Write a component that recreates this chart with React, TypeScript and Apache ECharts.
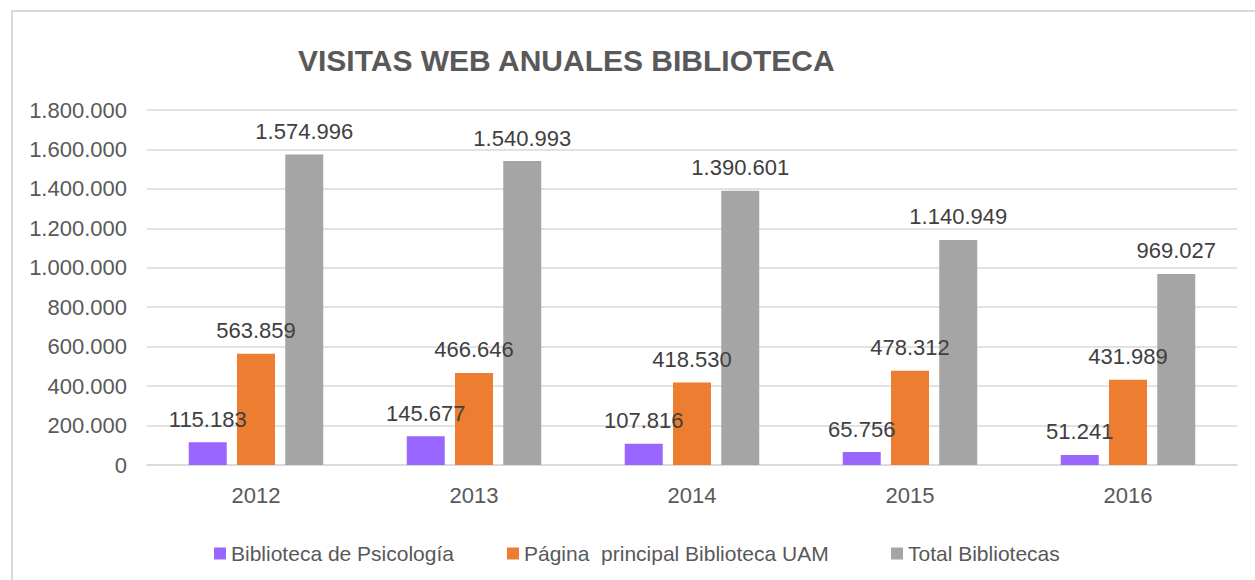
import React, { useEffect, useRef } from "react";
import * as echarts from "echarts";

const years = ["2012", "2013", "2014", "2015", "2016"];
const psicologia = [115183, 145677, 107816, 65756, 51241];
const paginaPrincipal = [563859, 466646, 418530, 478312, 431989];
const totalBibliotecas = [1574996, 1540993, 1390601, 1140949, 969027];
const seriesNames = [
  "Biblioteca de Psicología",
  "Página  principal Biblioteca UAM",
  "Total Bibliotecas",
];
const colors = ["#9966FF", "#ED7D31", "#A5A5A5"];

const fmt = (v: number) =>
  String(Math.round(v)).replace(/\B(?=(\d{3})+(?!\d))/g, ".");

export default function App() {
  const ref = useRef<HTMLDivElement>(null);
  useEffect(() => {
    if (!ref.current) return;
    const chart = echarts.init(ref.current, null, { renderer: "svg" });
    const font = "'Liberation Sans', Arial, sans-serif";
    const mk = (name: string, data: number[], color: string) => ({
      name,
      type: "bar",
      data,
      barWidth: 38,
      barGap: "27%",
      itemStyle: { color },
      label: {
        show: true,
        position: "top",
        distance: 12,
        color: "#404040",
        fontSize: 22,
        fontFamily: font,
        formatter: (p: any) => fmt(p.value),
      },
    });
    const legendLefts = [214, 507, 891];
    chart.setOption({
      animation: false,
      backgroundColor: "#ffffff",
      textStyle: { fontFamily: font },
      graphic: [
        {
          type: "rect",
          shape: { x: 12, y: 11, width: 1260, height: 600 },
          style: { fill: "none", stroke: "#d9d9d9", lineWidth: 2 },
          silent: true,
        },
      ],
      title: {
        text: "VISITAS WEB ANUALES BIBLIOTECA",
        left: 293,
        top: 40,
        textStyle: {
          fontFamily: font,
          fontSize: 30,
          fontWeight: "bold",
          color: "#595959",
        },
      },
      legend: seriesNames.map((n, i) => ({
        left: legendLefts[i],
        top: 543,
        padding: 0,
        itemWidth: 12,
        itemHeight: 12,
        icon: "rect",
        textStyle: { fontSize: 21, color: "#595959", fontFamily: font },
        data: [n],
      })),
      grid: { left: 147, right: 18, top: 110, bottom: 115, containLabel: false },
      xAxis: {
        type: "category",
        data: years,
        axisLine: { lineStyle: { color: "#d9d9d9", width: 1.5 } },
        axisTick: { show: false },
        axisLabel: { color: "#595959", fontSize: 22, margin: 19, fontFamily: font },
      },
      yAxis: {
        type: "value",
        min: 0,
        max: 1800000,
        interval: 200000,
        axisLine: { show: false },
        axisTick: { show: false },
        splitLine: { lineStyle: { color: "#d9d9d9", width: 1.5 } },
        axisLabel: {
          color: "#595959",
          fontSize: 22,
          margin: 20,
          fontFamily: font,
          formatter: (v: number) => fmt(v),
        },
      },
      series: [
        mk(seriesNames[0], psicologia, colors[0]),
        mk(seriesNames[1], paginaPrincipal, colors[1]),
        mk(seriesNames[2], totalBibliotecas, colors[2]),
      ],
    });
    return () => chart.dispose();
  }, []);
  return (
    <div
      ref={ref}
      style={{ position: "fixed", left: 0, top: 0, width: 1255, height: 580 }}
    />
  );
}
